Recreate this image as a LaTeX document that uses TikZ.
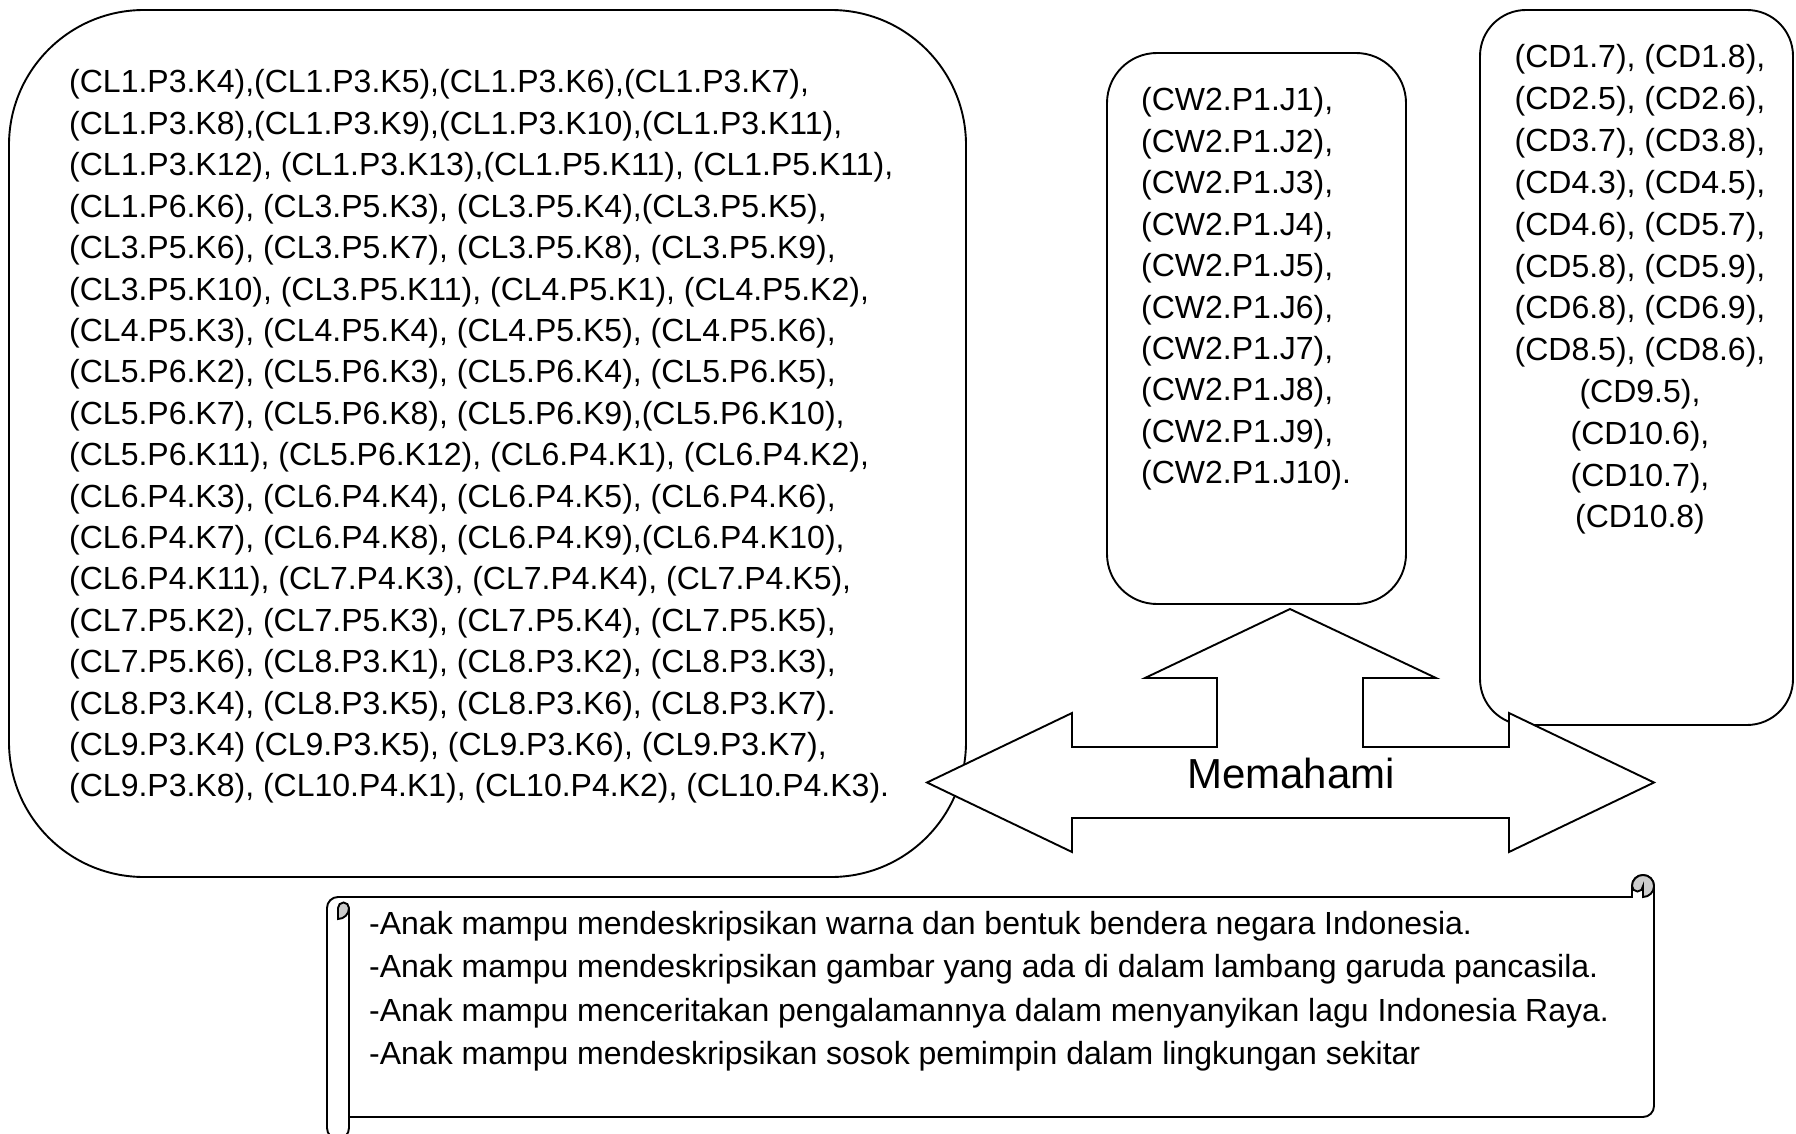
\documentclass[tikz,border=0pt]{standalone}
\usepackage{fontspec}
\setmainfont{Liberation Sans}
\definecolor{curl}{RGB}{204,204,204}
\begin{document}
\begin{tikzpicture}[x=1pt,y=-1pt,
  frame/.style={draw=black, line width=1.9pt, fill=white, line join=miter},
  curlpart/.style={draw=black, line width=1.9pt, fill=curl},
  txt/.style={font=\fontsize{32}{38}\selectfont, inner sep=0pt, anchor=base west},
  ctxt/.style={txt, anchor=base},
  big/.style={font=\fontsize{42}{50}\selectfont, inner sep=0pt, anchor=base}]
\useasboundingbox[fill=white] (0,0) rectangle (1796,1134);

% rounded boxes
\draw[frame, rounded corners=135pt] (9,10) rectangle (966,877);
\draw[frame, rounded corners=50pt] (1107,53) rectangle (1406,604);
\draw[frame, rounded corners=46pt] (1480,10) rectangle (1793,725);

% three-way block arrow
\draw[frame] (927,782.5) -- (1072,713) -- (1072,747) -- (1217,747) -- (1217,678)
  -- (1145,678) -- (1290,609) -- (1436,678) -- (1363,678) -- (1363,747)
  -- (1509,747) -- (1509,713) -- (1654,782.5) -- (1509,852) -- (1509,818)
  -- (1072,818) -- (1072,852) -- cycle;
\node[big] (memahami) at (1291,788) {Memahami};

% horizontal scroll
\draw[frame] (327,908) arc[start angle=180, end angle=90, radius=11pt]
  -- (1632,897) -- (1632,886) arc[start angle=180, end angle=0, radius=11pt]
  -- (1654,1106) arc[start angle=0, end angle=-90, radius=11pt]
  -- (349,1117) -- (349,1128) arc[start angle=0, end angle=-180, radius=11pt]
  -- cycle;
\draw[line width=1.9pt] (349,908) -- (349,1117);
\draw[curlpart] (338,919) arc[start angle=270, end angle=360, radius=11pt]
  arc[start angle=0, end angle=180, radius=5.5pt] -- cycle;
\draw[curlpart] (1643,897) arc[start angle=-90, end angle=180, radius=11pt]
  arc[start angle=180, end angle=360, radius=5.5pt] -- cycle;

% codes in the left box
\foreach \t [count=\i] in {
  {(CL1.P3.K4),(CL1.P3.K5),(CL1.P3.K6),(CL1.P3.K7),},
  {(CL1.P3.K8),(CL1.P3.K9),(CL1.P3.K10),(CL1.P3.K11),},
  {(CL1.P3.K12), (CL1.P3.K13),(CL1.P5.K11), (CL1.P5.K11),},
  {(CL1.P6.K6), (CL3.P5.K3), (CL3.P5.K4),(CL3.P5.K5),},
  {(CL3.P5.K6), (CL3.P5.K7), (CL3.P5.K8), (CL3.P5.K9),},
  {(CL3.P5.K10), (CL3.P5.K11), (CL4.P5.K1), (CL4.P5.K2),},
  {(CL4.P5.K3), (CL4.P5.K4), (CL4.P5.K5), (CL4.P5.K6),},
  {(CL5.P6.K2), (CL5.P6.K3), (CL5.P6.K4), (CL5.P6.K5),},
  {(CL5.P6.K7), (CL5.P6.K8), (CL5.P6.K9),(CL5.P6.K10),},
  {(CL5.P6.K11), (CL5.P6.K12), (CL6.P4.K1), (CL6.P4.K2),},
  {(CL6.P4.K3), (CL6.P4.K4), (CL6.P4.K5), (CL6.P4.K6),},
  {(CL6.P4.K7), (CL6.P4.K8), (CL6.P4.K9),(CL6.P4.K10),},
  {(CL6.P4.K11), (CL7.P4.K3), (CL7.P4.K4), (CL7.P4.K5),},
  {(CL7.P5.K2), (CL7.P5.K3), (CL7.P5.K4), (CL7.P5.K5),},
  {(CL7.P5.K6), (CL8.P3.K1), (CL8.P3.K2), (CL8.P3.K3),},
  {(CL8.P3.K4), (CL8.P3.K5), (CL8.P3.K6), (CL8.P3.K7).},
  {(CL9.P3.K4) (CL9.P3.K5), (CL9.P3.K6), (CL9.P3.K7),},
  {(CL9.P3.K8), (CL10.P4.K1), (CL10.P4.K2), (CL10.P4.K3).}}
  \node[txt] (cl\i) at (69,{93+41.4*(\i-1)}) {\t};

% codes in the middle box
\foreach \t [count=\i] in {
  {(CW2.P1.J1),},{(CW2.P1.J2),},{(CW2.P1.J3),},{(CW2.P1.J4),},{(CW2.P1.J5),},
  {(CW2.P1.J6),},{(CW2.P1.J7),},{(CW2.P1.J8),},{(CW2.P1.J9),},{(CW2.P1.J10).}}
  \node[txt] (cw\i) at (1141,{111+41.4*(\i-1)}) {\t};

% codes in the right box
\foreach \t [count=\i] in {
  {(CD1.7), (CD1.8),},{(CD2.5), (CD2.6),},{(CD3.7), (CD3.8),},
  {(CD4.3), (CD4.5),},{(CD4.6), (CD5.7),},{(CD5.8), (CD5.9),},
  {(CD6.8), (CD6.9),},{(CD8.5), (CD8.6),},{(CD9.5),},
  {(CD10.6),},{(CD10.7),},{(CD10.8)}}
  \node[ctxt] (cd\i) at (1640,{68+41.8*(\i-1)}) {\t};

% outcomes in the scroll
\foreach \t [count=\i] in {
  {-Anak mampu mendeskripsikan warna dan bentuk bendera negara Indonesia.},
  {-Anak mampu mendeskripsikan gambar yang ada di dalam lambang garuda pancasila.},
  {-Anak mampu menceritakan pengalamannya dalam menyanyikan lagu Indonesia Raya.},
  {-Anak mampu mendeskripsikan sosok pemimpin dalam lingkungan sekitar}}
  \node[txt] (s\i) at (369,{934+43.5*(\i-1)}) {\t};
\end{tikzpicture}
\end{document}
